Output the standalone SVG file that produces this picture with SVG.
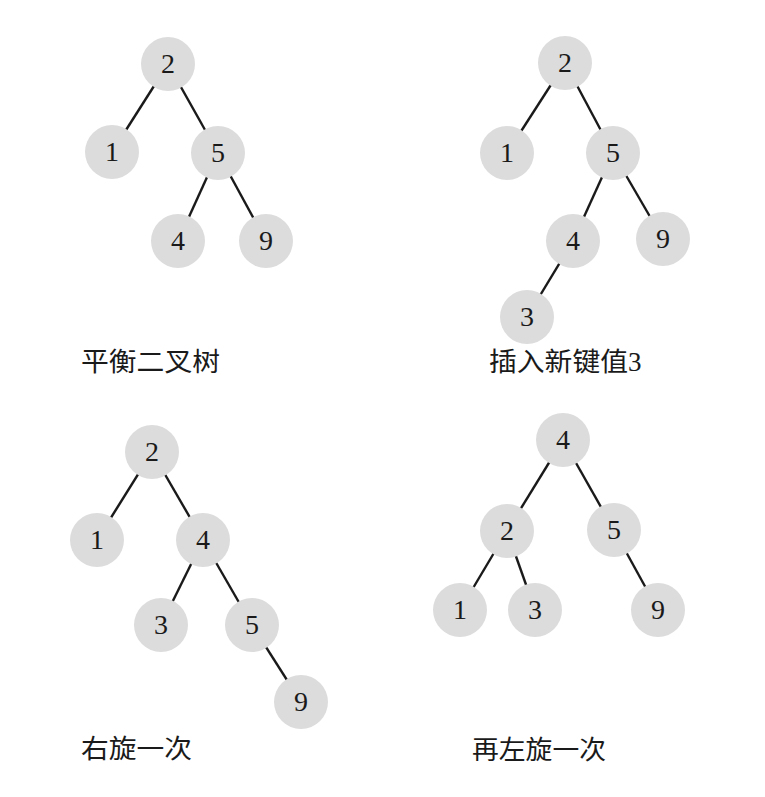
<svg xmlns="http://www.w3.org/2000/svg" width="765" height="797" viewBox="0 0 765 797">
<style>
.e{stroke:#1a1a1a;stroke-width:2.4;fill:none}
.n circle{fill:#dcdcdc}
.n text{font-family:"Liberation Serif","Times New Roman",serif;font-size:28px;fill:#1a1a1a;text-anchor:middle}
.lab{font-family:"Noto Sans CJK SC","Noto Sans CJK JP",sans-serif;font-size:26px;fill:#1a1a1a}
.ser{font-family:"Liberation Serif","Times New Roman",serif;font-size:27px}
</style>
<rect width="765" height="797" fill="#fff"/>
<g id="connectors">
<line class="e" x1="168" y1="64" x2="112" y2="152"/>
<line class="e" x1="168" y1="64" x2="218" y2="153"/>
<line class="e" x1="218" y1="153" x2="178" y2="241"/>
<line class="e" x1="218" y1="153" x2="266" y2="241"/>
<line class="e" x1="565" y1="63" x2="507" y2="153"/>
<line class="e" x1="565" y1="63" x2="613" y2="153"/>
<line class="e" x1="613" y1="153" x2="573" y2="241"/>
<line class="e" x1="613" y1="153" x2="663" y2="239"/>
<line class="e" x1="573" y1="241" x2="527" y2="317"/>
<line class="e" x1="152" y1="452" x2="97" y2="540"/>
<line class="e" x1="152" y1="452" x2="203" y2="540"/>
<line class="e" x1="203" y1="540" x2="161" y2="625"/>
<line class="e" x1="203" y1="540" x2="252" y2="625"/>
<line class="e" x1="252" y1="625" x2="301" y2="702"/>
<line class="e" x1="563" y1="440" x2="507" y2="531"/>
<line class="e" x1="563" y1="440" x2="614" y2="530"/>
<line class="e" x1="507" y1="531" x2="460" y2="610"/>
<line class="e" x1="507" y1="531" x2="535" y2="610"/>
<line class="e" x1="614" y1="530" x2="658" y2="610"/>
</g>
<g id="t1-2" class="n"><circle cx="168" cy="64" r="27"/><text x="168" y="73">2</text></g>
<g id="t1-1" class="n"><circle cx="112" cy="152" r="27"/><text x="112" y="161">1</text></g>
<g id="t1-5" class="n"><circle cx="218" cy="153" r="27"/><text x="218" y="162">5</text></g>
<g id="t1-4" class="n"><circle cx="178" cy="241" r="27"/><text x="178" y="250">4</text></g>
<g id="t1-9" class="n"><circle cx="266" cy="241" r="27"/><text x="266" y="250">9</text></g>
<g id="t2-2" class="n"><circle cx="565" cy="63" r="27"/><text x="565" y="72">2</text></g>
<g id="t2-1" class="n"><circle cx="507" cy="153" r="27"/><text x="507" y="162">1</text></g>
<g id="t2-5" class="n"><circle cx="613" cy="153" r="27"/><text x="613" y="162">5</text></g>
<g id="t2-4" class="n"><circle cx="573" cy="241" r="27"/><text x="573" y="250">4</text></g>
<g id="t2-9" class="n"><circle cx="663" cy="239" r="27"/><text x="663" y="248">9</text></g>
<g id="t2-3" class="n"><circle cx="527" cy="317" r="27"/><text x="527" y="326">3</text></g>
<g id="t3-2" class="n"><circle cx="152" cy="452" r="27"/><text x="152" y="461">2</text></g>
<g id="t3-1" class="n"><circle cx="97" cy="540" r="27"/><text x="97" y="549">1</text></g>
<g id="t3-4" class="n"><circle cx="203" cy="540" r="27"/><text x="203" y="549">4</text></g>
<g id="t3-3" class="n"><circle cx="161" cy="625" r="27"/><text x="161" y="634">3</text></g>
<g id="t3-5" class="n"><circle cx="252" cy="625" r="27"/><text x="252" y="634">5</text></g>
<g id="t3-9" class="n"><circle cx="301" cy="702" r="27"/><text x="301" y="711">9</text></g>
<g id="t4-4" class="n"><circle cx="563" cy="440" r="27"/><text x="563" y="449">4</text></g>
<g id="t4-2" class="n"><circle cx="507" cy="531" r="27"/><text x="507" y="540">2</text></g>
<g id="t4-5" class="n"><circle cx="614" cy="530" r="27"/><text x="614" y="539">5</text></g>
<g id="t4-1" class="n"><circle cx="460" cy="610" r="27"/><text x="460" y="619">1</text></g>
<g id="t4-3" class="n"><circle cx="535" cy="610" r="27"/><text x="535" y="619">3</text></g>
<g id="t4-9" class="n"><circle cx="658" cy="610" r="27"/><text x="658" y="619">9</text></g>
<g id="labels">
<text class="lab" x="81" y="371" textLength="139" lengthAdjust="spacingAndGlyphs">平衡二叉树</text>
<text class="lab" x="489" y="371" textLength="139" lengthAdjust="spacingAndGlyphs">插入新键值</text>
<text class="lab ser" x="628" y="371">3</text>
<text class="lab" x="81" y="758" textLength="111" lengthAdjust="spacingAndGlyphs">右旋一次</text>
<text class="lab" x="472" y="759" textLength="134" lengthAdjust="spacingAndGlyphs">再左旋一次</text>
</g>
</svg>
